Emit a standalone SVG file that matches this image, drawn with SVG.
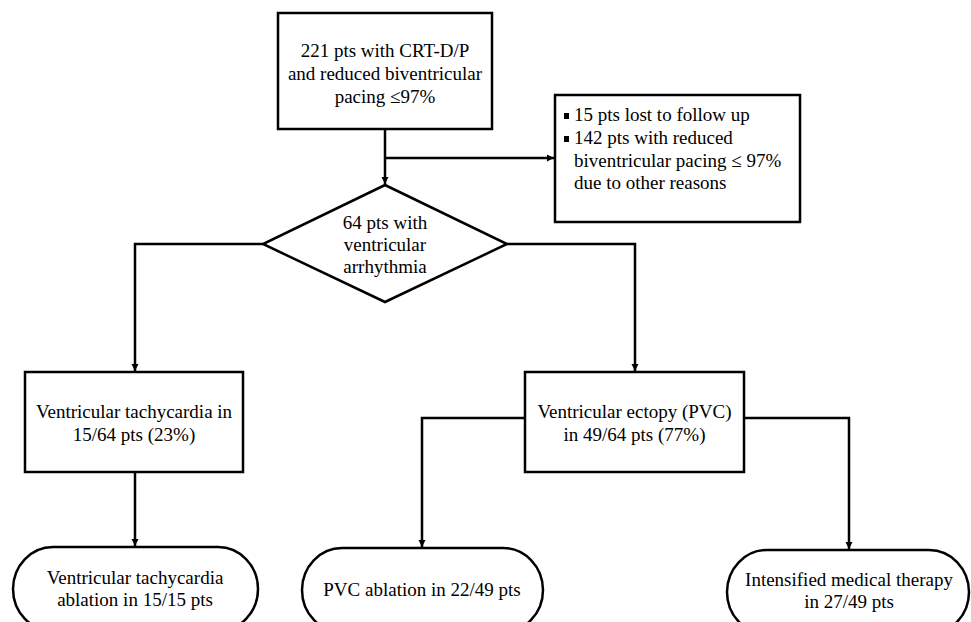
<svg xmlns="http://www.w3.org/2000/svg" width="971" height="622" viewBox="0 0 971 622">
<defs>
<style>
.s{fill:#fff;stroke:#000;stroke-width:2.5}
.c{fill:none;stroke:#000;stroke-width:2.5}
.t{font-size:19px;fill:#000}
.m{text-anchor:middle}
</style>
<marker id="a" viewBox="0 0 10 10" refX="10" refY="5" markerWidth="3" markerHeight="3.2" orient="auto" markerUnits="strokeWidth">
<path d="M0,0 L10,5 L0,10 z" fill="#000"/>
</marker>
</defs>
<rect width="971" height="622" fill="#fff"/>
<g id="connectors">
<path class="c" d="M385,129 V184" marker-end="url(#a)"/>
<path class="c" d="M385,158 H554" marker-end="url(#a)"/>
<path class="c" d="M263,244 H135 V371" marker-end="url(#a)"/>
<path class="c" d="M507,244 H635 V371" marker-end="url(#a)"/>
<path class="c" d="M135,472 V546" marker-end="url(#a)"/>
<path class="c" d="M525,418 H422 V547" marker-end="url(#a)"/>
<path class="c" d="M744,418 H849 V549" marker-end="url(#a)"/>
</g>
<g font-family="'Liberation Serif', 'DejaVu Serif', serif" class="t">
<g id="start">
<rect class="s" x="278" y="13" width="214" height="116"/>
<text class="m" x="385" y="57">221 pts with CRT-D/P</text>
<text class="m" x="385" y="80">and reduced biventricular</text>
<text class="m" x="385" y="103">pacing ≤97%</text>
</g>
<g id="excluded">
<rect class="s" x="555" y="95" width="245" height="127"/>
<rect x="564" y="113" width="5" height="6" fill="#000"/>
<rect x="564" y="136" width="5" height="6" fill="#000"/>
<text x="574" y="121">15 pts lost to follow up</text>
<text x="574" y="144">142 pts with reduced</text>
<text x="574" y="167">biventricular pacing ≤ 97%</text>
<text x="574" y="189">due to other reasons</text>
</g>
<g id="decision">
<polygon class="s" points="385,185 507,244 385,302 263,244"/>
<text class="m" x="385" y="229">64 pts with</text>
<text class="m" x="385" y="251">ventricular</text>
<text class="m" x="385" y="273">arrhythmia</text>
</g>
<g id="vt">
<rect class="s" x="25" y="372" width="218" height="100"/>
<text class="m" x="134" y="418">Ventricular tachycardia in</text>
<text class="m" x="134" y="441">15/64 pts (23%)</text>
</g>
<g id="pvc">
<rect class="s" x="525" y="372" width="219" height="100"/>
<text class="m" x="634.5" y="418">Ventricular ectopy (PVC)</text>
<text class="m" x="634.5" y="441">in 49/64 pts (77%)</text>
</g>
<g id="vt-ablation">
<rect class="s" x="13" y="547" width="245" height="84" rx="40" ry="42"/>
<text class="m" x="135" y="584">Ventricular tachycardia</text>
<text class="m" x="135" y="606">ablation in 15/15 pts</text>
</g>
<g id="pvc-ablation">
<rect class="s" x="302" y="548" width="241" height="84" rx="40" ry="42"/>
<text class="m" x="422" y="596">PVC ablation in 22/49 pts</text>
</g>
<g id="medical">
<rect class="s" x="727" y="550" width="242" height="84" rx="40" ry="42"/>
<text class="m" x="849" y="586">Intensified medical therapy</text>
<text class="m" x="849" y="608">in 27/49 pts</text>
</g>
</g>
</svg>
